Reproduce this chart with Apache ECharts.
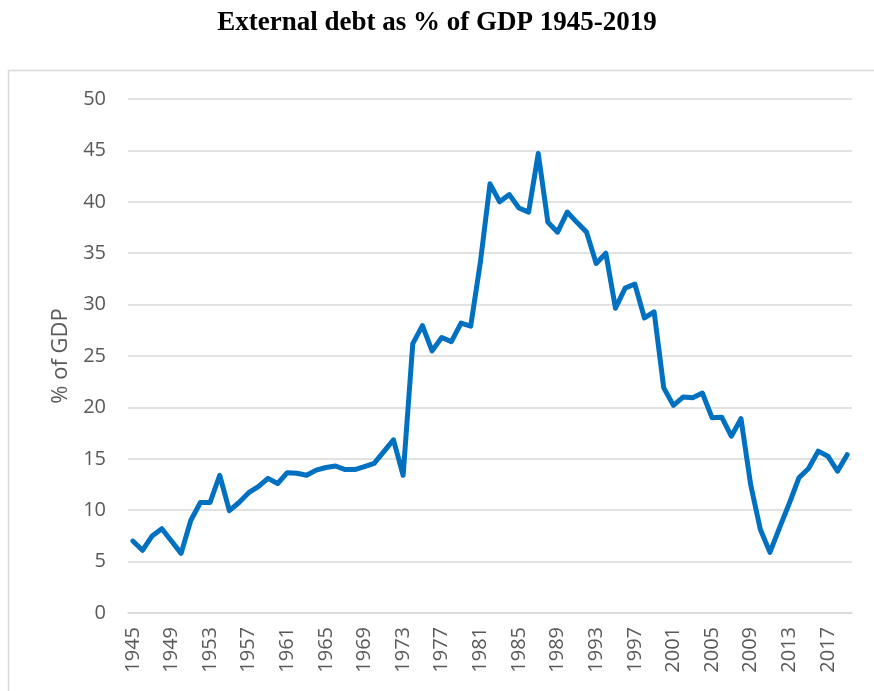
<!DOCTYPE html>
<html>
<head>
<meta charset="utf-8">
<script src="https://cdn.jsdelivr.net/npm/echarts@6/dist/echarts.min.js"></script>
<style>html,body{margin:0;padding:0;background:#fff}#c{width:874px;height:691px}</style>
</head>
<body>
<div id="c"></div>
<script>
var years = [];
for (var y = 1945; y <= 2019; y++) years.push(String(y));
var debtPct = [
  7.0, 6.1, 7.5, 8.2, 7.0, 5.8, 9.0, 10.75, 10.75, 13.4,
  9.95, 10.75, 11.7, 12.3, 13.1, 12.6, 13.65, 13.6, 13.4, 13.9,
  14.15, 14.3, 13.95, 13.95, 14.25, 14.55, 15.7, 16.85, 13.4, 26.2,
  27.95, 25.5, 26.8, 26.4, 28.2, 27.9, 34.1, 41.75, 40.0, 40.7,
  39.4, 39.0, 44.7, 38.0, 37.05, 39.0, 38.0, 37.05, 34.0, 35.0,
  29.65, 31.6, 32.0, 28.7, 29.3, 21.9, 20.2, 21.0, 20.95, 21.4,
  19.0, 19.05, 17.2, 18.9, 12.5, 8.15, 5.9, 8.3, 10.65, 13.15,
  14.05, 15.75, 15.25, 13.8, 15.4
];
var titleText = 'External debt as % of GDP 1945-2019';
var yName = '% of GDP';

var chart = echarts.init(document.getElementById('c'), null, {renderer: 'canvas'});
chart.setOption({
  animation: false,
  backgroundColor: '#ffffff',
  title: {
    text: titleText,
    left: 'center',
    top: 5,
    textStyle: {fontFamily: 'Liberation Serif', fontWeight: 'bold', fontSize: 27, color: '#000000'}
  },
  graphic: [{
    type: 'rect',
    shape: {x: 8.5, y: 70.5, width: 900, height: 700},
    style: {fill: 'none', stroke: '#d9d9d9', lineWidth: 1.5},
    silent: true,
    z: -1
  }],
  grid: {left: 128, right: 22, top: 99, bottom: 78, containLabel: false},
  xAxis: {
    type: 'category',
    data: years,
    boundaryGap: true,
    axisLine: {show: true, lineStyle: {color: '#d9d9d9', width: 1.5}},
    axisTick: {show: false},
    axisLabel: {
      rotate: 90,
      interval: 3,
      margin: 14,
      fontFamily: 'Open Sans',
      fontSize: 20,
      color: '#595959'
    },
    splitLine: {show: false}
  },
  yAxis: {
    type: 'value',
    min: 0,
    max: 50,
    interval: 5,
    name: yName,
    nameLocation: 'middle',
    nameGap: 56,
    nameTextStyle: {fontFamily: 'Open Sans', fontSize: 22, color: '#595959'},
    axisLine: {show: false},
    axisTick: {show: false},
    axisLabel: {fontFamily: 'Open Sans', fontSize: 20, color: '#595959', margin: 22},
    splitLine: {show: true, lineStyle: {color: '#d9d9d9', width: 1.5}}
  },
  series: [{
    type: 'line',
    data: debtPct,
    showSymbol: false,
    symbol: 'none',
    lineStyle: {color: '#0070C0', width: 5, join: 'round', cap: 'round'},
    itemStyle: {color: '#0070C0'}
  }]
});
</script>
</body>
</html>
